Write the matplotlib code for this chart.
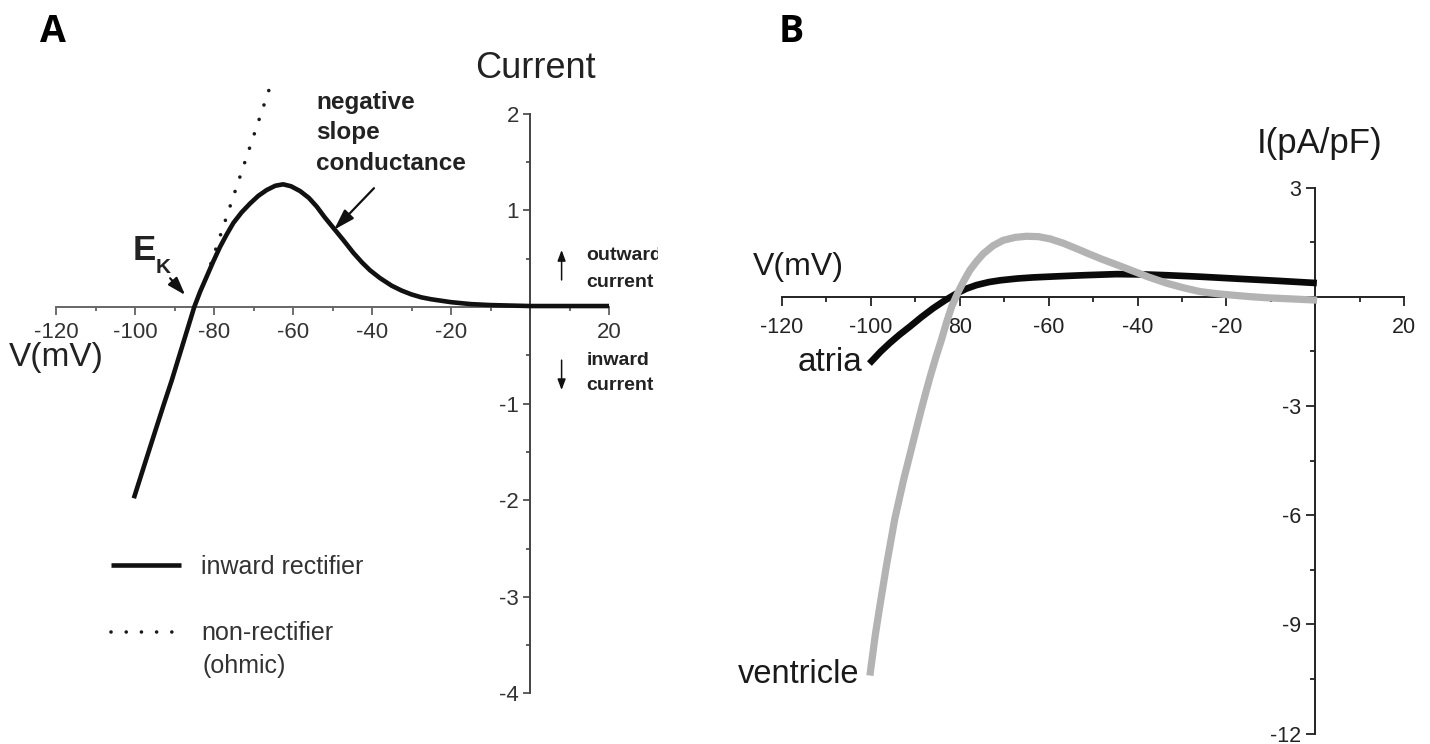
import numpy as np
import matplotlib
matplotlib.use("Agg")
import matplotlib.pyplot as plt
from matplotlib.ticker import FixedLocator, FixedFormatter

plt.rcParams['font.family'] = ['Liberation Sans', 'DejaVu Sans']

# ---- panel A : inward rectifier I-V relation ----
a_v = [-100.3, -97.5, -95, -92.8, -90.7, -88, -85, -83.5, -81.9, -80.2, -78.5,
       -76.8, -75.1, -73.0, -70.9, -68.8, -66.7, -64.5, -62.5, -60.5, -58.2,
       -56, -54, -52, -49.8, -47.2, -44.7, -42.5, -40.5, -38, -35, -32.5, -30,
       -27.5, -25, -22.5, -20, -15, -10, 0, 10, 20]
a_i = [-1.98, -1.62, -1.30, -1.02, -0.76, -0.40, 0.0, 0.16, 0.31, 0.47, 0.62,
       0.75, 0.87, 0.98, 1.07, 1.15, 1.21, 1.255, 1.27, 1.25, 1.20,
       1.13, 1.04, 0.93, 0.82, 0.69, 0.56, 0.46, 0.38, 0.30, 0.22, 0.17, 0.13,
       0.10, 0.08, 0.065, 0.05, 0.03, 0.02, 0.01, 0.01, 0.01]
ohm_v = [-82.0, -65.4]
ohm_i = [0.30, 2.33]

a_xticks = [-120, -100, -80, -60, -40, -20, 0, 20]
a_xlabels = ['-120', '-100', '-80', '-60', '-40', '-20', '', '20']
a_yticks = [2, 1, 0, -1, -2, -3, -4]
a_ylabels = ['2', '1', '', '-1', '-2', '-3', '-4']

# ---- panel B : atria vs ventricle ----
ven_v = [-100.1, -99.0, -98.1, -96.5, -94.6, -92.6, -90.5, -89.5, -88.6, -87.6,
         -86.7, -85.4, -84.1, -83.0, -81.8, -80.3, -79.0, -77.7, -76.2, -74.7,
         -72.5, -70.2, -67.5, -65.0, -62.3, -59.7, -56.7, -53.7, -51.0, -48.0,
         -44.5, -41.3, -37.5, -33.4, -29.5, -25.9, -22.0, -18.4, -14.5, -10.9,
         -5.5, -0.4]
ven_i = [-10.31, -9.30, -8.60, -7.40, -6.10, -5.02, -4.00, -3.51, -3.08, -2.62,
         -2.22, -1.68, -1.18, -0.72, -0.27, 0.14, 0.45, 0.73, 0.97, 1.18,
         1.40, 1.55, 1.63, 1.66, 1.65, 1.59, 1.47, 1.32, 1.18, 1.03,
         0.87, 0.72, 0.54, 0.37, 0.24, 0.14, 0.08, 0.04, 0.00, -0.03,
         -0.06, -0.09]
atr_v = [-99.8, -97.8, -95.7, -93.5, -91.2, -88.6, -86.0, -83.3, -80.7, -78.5,
         -76.2, -73.5, -70.9, -67.0, -63.4, -58.0, -52.1, -44.7, -38.0, -33.4,
         -26.0, -18.4, -9.0, -0.4]
atr_i = [-1.77, -1.51, -1.27, -1.04, -0.82, -0.56, -0.32, -0.10, 0.09, 0.22,
         0.32, 0.40, 0.45, 0.50, 0.53, 0.56, 0.59, 0.62, 0.61, 0.59,
         0.55, 0.50, 0.44, 0.38]

b_xticks = [-120, -100, -80, -60, -40, -20, 0, 20]
b_xlabels = ['-120', '-100', '80', '-60', '-40', '-20', '', '20']
b_yticks = [3, 0, -3, -6, -9, -12]
b_ylabels = ['3', '', '-3', '-6', '-9', '-12']

W, H = 1430, 744
fig = plt.figure(figsize=(W / 100, H / 100), dpi=100, facecolor='white')


def make_axes(box, x0, kx, y0, ky):
    # box = (left, top, right, bottom) in pixels; x0/y0 pixel of data zero, kx/ky px per unit
    l, t, r, b = box
    ax = fig.add_axes([l / W, 1 - b / H, (r - l) / W, (b - t) / H])
    ax.set_xlim((l - x0) / kx, (r - x0) / kx)
    ax.set_ylim((y0 - b) / ky, (y0 - t) / ky)
    ax.patch.set_visible(False)
    for s in ['top', 'right']:
        ax.spines[s].set_visible(False)
    ax.spines['left'].set_position(('data', 0))
    ax.spines['bottom'].set_position(('data', 0))
    return ax


# ================= panel A =================
axA = make_axes((0, 0, 658, 744), 530, 3.95, 307, 96.6)
ca = '#555555'
axA.spines['bottom'].set_color('#666666')
axA.spines['left'].set_color('#444444')
axA.spines['bottom'].set_linewidth(1.4)
axA.spines['left'].set_linewidth(1.4)
axA.spines['bottom'].set_bounds(-120, 20)
axA.spines['left'].set_bounds(-4, 2)

axA.xaxis.set_major_locator(FixedLocator(a_xticks))
axA.xaxis.set_major_formatter(FixedFormatter(a_xlabels))
axA.xaxis.set_minor_locator(FixedLocator(np.arange(-110, 20, 20)))
axA.yaxis.set_major_locator(FixedLocator(a_yticks))
axA.yaxis.set_major_formatter(FixedFormatter(a_ylabels))
axA.yaxis.set_minor_locator(FixedLocator(np.arange(-3.5, 2, 1.0)))
axA.tick_params(axis='x', which='major', direction='out', length=5.5, width=1.2,
                color=ca, labelsize=16, labelcolor='#333333', pad=5)
axA.tick_params(axis='x', which='minor', direction='out', length=3.2, width=1.2, color=ca)
axA.tick_params(axis='y', which='major', direction='out', length=5, width=1.2,
                color='#444444', labelsize=16, labelcolor='#333333', pad=3)
axA.tick_params(axis='y', which='minor', direction='out', length=3, width=1.2, color='#444444')

lnOhm, = axA.plot(ohm_v, ohm_i, color='#1a1a1a', lw=2.6, dashes=(0.01, 4.2),
                  dash_capstyle='round', zorder=2)
lnA, = axA.plot(a_v, a_i, color='#111111', lw=3.3, solid_joinstyle='round',
                solid_capstyle='butt', zorder=3)

axA.text(-14.0, 2.37, 'Current', fontsize=26, color='#222222', ha='left', va='baseline')
axA.text(-131.9, -0.61, 'V(mV)', fontsize=24, color='#222222', ha='left', va='baseline')
axA.text(-54.2, 1.418, 'negative\nslope\nconductance', fontsize=17.5, fontweight='bold',
         color='#222222', ha='left', va='baseline', linespacing=1.42)
axA.annotate('', xy=(-49.6, 0.80), xytext=(-39.5, 1.23),
             arrowprops=dict(arrowstyle='-|>,head_length=0.9,head_width=0.28',
                             color='#111111', lw=1.6, mutation_scale=14, shrinkA=0, shrinkB=0))
axA.text(-100.5, 0.487, 'E', fontsize=25, fontweight='bold', color='#222222',
         ha='left', va='baseline')
axA.text(-94.9, 0.352, 'K', fontsize=15, fontweight='bold', color='#222222',
         ha='left', va='baseline')
axA.annotate('', xy=(-87.3, 0.124), xytext=(-91.1, 0.297),
             arrowprops=dict(arrowstyle='-|>,head_length=0.9,head_width=0.3',
                             color='#111111', lw=1.6, mutation_scale=12, shrinkA=0, shrinkB=0))

axA.text(14.35, 0.207, 'outward\ncurrent', fontsize=14, fontweight='bold',
         color='#222222', ha='left', va='baseline', linespacing=1.75, clip_on=True)
axA.text(14.35, -0.86, 'inward\ncurrent', fontsize=14, fontweight='bold',
         color='#222222', ha='left', va='baseline', linespacing=1.65, clip_on=True)
axA.annotate('', xy=(8.0, 0.59), xytext=(8.0, 0.28),
             arrowprops=dict(arrowstyle='-|>,head_length=0.8,head_width=0.3',
                             color='#111111', lw=1.1, mutation_scale=8, shrinkA=0, shrinkB=0))
axA.annotate('', xy=(8.0, -0.86), xytext=(8.0, -0.55),
             arrowprops=dict(arrowstyle='-|>,head_length=0.8,head_width=0.3',
                             color='#111111', lw=1.1, mutation_scale=8, shrinkA=0, shrinkB=0))

leg = axA.legend([lnA, lnOhm], ['inward rectifier', 'non-rectifier'],
                 loc='upper left', bbox_to_anchor=(111 / W, 1 - 555 / H),
                 bbox_transform=fig.transFigure, frameon=False, fontsize=18,
                 handlelength=2.8, handletextpad=0.8, labelspacing=1.7,
                 borderpad=0, borderaxespad=0)
for t in leg.get_texts():
    t.set_color('#333333')
axA.text(-82.9, -3.79, '(ohmic)', fontsize=18, color='#333333', ha='left', va='baseline')

# ================= panel B =================
axB = make_axes((700, 0, 1430, 744), 1315.3, 4.445, 296.7, 36.4)
cb = '#222222'
for s in ['bottom', 'left']:
    axB.spines[s].set_color(cb)
    axB.spines[s].set_linewidth(1.4)
axB.spines['bottom'].set_bounds(-120, 20)
axB.spines['left'].set_bounds(-12, 3)

axB.xaxis.set_major_locator(FixedLocator(b_xticks))
axB.xaxis.set_major_formatter(FixedFormatter(b_xlabels))
axB.xaxis.set_minor_locator(FixedLocator(np.arange(-110, 20, 20)))
axB.yaxis.set_major_locator(FixedLocator(b_yticks))
axB.yaxis.set_major_formatter(FixedFormatter(b_ylabels))
axB.yaxis.set_minor_locator(FixedLocator(np.arange(-10.5, 3, 3.0)))
axB.tick_params(axis='both', which='major', direction='out', length=6.5, width=1.3,
                color=cb, labelsize=15.5, labelcolor='#222222')
axB.tick_params(axis='x', which='major', pad=8)
axB.tick_params(axis='y', which='major', pad=3.5)
axB.tick_params(axis='both', which='minor', direction='out', length=3.8, width=1.3, color=cb)

axB.plot(atr_v, atr_i, color='#0a0a0a', lw=4.8, solid_joinstyle='round', zorder=3)
axB.plot(ven_v, ven_i, color='#b3b3b3', lw=5.2, solid_joinstyle='round', zorder=4)

axB.text(-13.2, 3.95, 'I(pA/pF)', fontsize=25, color='#1a1a1a', ha='left', va='baseline')
axB.text(-126.5, 0.59, 'V(mV)', fontsize=23, color='#1a1a1a', ha='left', va='baseline')
axB.text(-101.8, -2.04, 'atria', fontsize=24, color='#1a1a1a', ha='right', va='baseline')
axB.text(-102.6, -10.61, 'ventricle', fontsize=23.5, color='#1a1a1a', ha='right', va='baseline')

# panel letters
fig.text(40 / W, 1 - 42 / H, 'A', fontsize=27, fontweight='bold', family='Open Sans',
         ha='left', va='baseline')
fig.text(779 / W, 1 - 42 / H, 'B', fontsize=27, fontweight='bold', family='Open Sans',
         ha='left', va='baseline')

fig.savefig('out.png', dpi=100, facecolor='white')
